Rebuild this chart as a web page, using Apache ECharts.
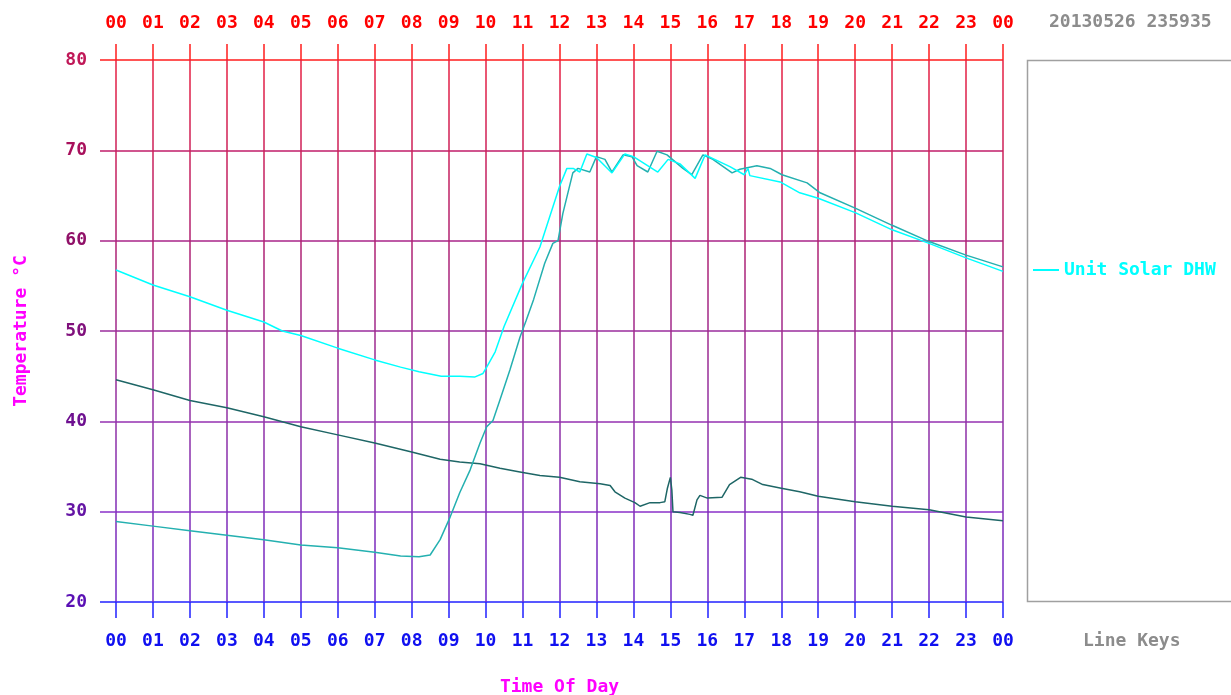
<!DOCTYPE html>
<html>
<head>
<meta charset="utf-8">
<title>Unit Solar DHW</title>
<script src="https://cdn.jsdelivr.net/npm/echarts@6/dist/echarts.min.js"></script>
<style>
  html, body { margin: 0; padding: 0; background: #fff; }
  #chart { width: 1231px; height: 695px; }
</style>
</head>
<body>
<div id="chart"></div>
<script>
// hour ticks 0..24, temperature ticks 20..80
var hourTicks = ['00', '01', '02', '03', '04', '05', '06', '07', '08', '09', '10', '11', '12',
  '13', '14', '15', '16', '17', '18', '19', '20', '21', '22', '23', '00']
var tempTicks = [20, 30, 40, 50, 60, 70, 80]

// Unit Solar DHW (cyan)
var dhwHours = [0, 1, 2, 3, 4, 4.5, 5, 6, 7, 7.7, 8.2, 8.8, 9.3, 9.7, 9.93, 10.03, 10.26, 10.5,
  11, 11.47, 12.0, 12.2, 12.37, 12.55, 12.74, 13.0, 13.42, 13.77, 14.0, 14.66, 14.94, 15.26,
  15.67, 15.94, 16.61, 17.0, 17.1, 17.15, 17.97, 18.5, 19.0, 20, 21, 22, 23, 24]
var dhwTemps = [56.75, 55.1, 53.8, 52.3, 51.0, 50.0, 49.5, 48.1, 46.8, 46, 45.5, 45, 45, 44.9, 45.3, 46, 47.7, 50.5,
  55.3, 59.3, 66, 68, 68, 67.6, 69.6, 69.2, 67.5, 69.6, 69.3, 67.6, 69, 68.5,
  66.9, 69.5, 68.2, 67.3, 68, 67.2, 66.5, 65.3, 64.7, 63.1, 61.2, 59.7, 58.1, 56.6]

// second sensor (teal)
var tealHours = [0, 1, 2, 3, 4, 5, 6, 7, 7.7, 8.2, 8.5, 8.77, 9.04, 9.3, 9.58, 9.85,
  10.03, 10.2, 10.39, 10.66, 10.93, 11.1, 11.3, 11.6, 11.82, 11.96, 12.09, 12.36, 12.5, 12.82,
  13.0, 13.23, 13.42, 13.72, 13.96, 14.1, 14.39, 14.64, 14.91, 15.34, 15.58, 15.88,
  16.15, 16.67, 16.88, 17.34, 17.7, 18.02, 18.7, 19.05, 20, 21, 22, 23, 24]
var tealTemps = [28.9, 28.4, 27.9, 27.4, 26.9, 26.3, 26, 25.5, 25.1, 25, 25.2, 26.9, 29.4, 32.1, 34.6, 37.6,
  39.4, 40.1, 42.4, 45.7, 49.3, 51.2, 53.5, 57.5, 59.7, 60, 63, 67.5, 68, 67.6,
  69.3, 69, 67.6, 69.5, 69.3, 68.3, 67.6, 69.9, 69.5, 68, 67.3, 69.5,
  69, 67.5, 67.9, 68.3, 68, 67.3, 66.4, 65.3, 63.6, 61.7, 59.9, 58.4, 57.1]

// third sensor (dark teal)
var darkHours = [0, 1, 2, 3, 4, 5, 6, 7, 8, 8.77, 9.3, 9.85, 10.39, 10.93, 11.47,
  12.0, 12.55, 13.1, 13.37, 13.5, 13.77, 14.04, 14.18, 14.45, 14.72, 14.85, 14.92,
  15.0, 15.04, 15.07, 15.26, 15.53, 15.61, 15.72, 15.8, 16, 16.4, 16.6, 16.9,
  17.2, 17.5, 18, 18.5, 19, 20, 21, 22, 23, 24]
var darkTemps = [44.6, 43.5, 42.3, 41.5, 40.5, 39.4, 38.5, 37.6, 36.6, 35.8, 35.5, 35.3, 34.8, 34.4, 34,
  33.8, 33.3, 33.1, 32.9, 32.2, 31.5, 31, 30.6, 31, 31, 31.1, 32.6,
  33.8, 32.4, 30, 29.9, 29.7, 29.6, 31.3, 31.8, 31.5, 31.6, 33, 33.8,
  33.6, 33, 32.6, 32.2, 31.7, 31.1, 30.6, 30.2, 29.4, 29]

var stamp = '20130526 235935'

function pairs(xs, ys) {
  var out = []
  for (var i = 0; i < xs.length; i++) {
    out.push([xs[i], ys[i]])
  }
  return out
}

var MONO = '"DejaVu Sans Mono", "Liberation Mono", monospace'
var hLineColors = ['#2020ff', '#8a30c8', '#9430b0', '#9a2c9c', '#a82488', '#c01c68', '#ff1c1c']
var yLabelColors = {20: '#5a10b4', 30: '#6414a4', 40: '#6e1090', 50: '#80107c', 60: '#901068', 70: '#a8105c', 80: '#c01858'}

var chart = echarts.init(document.getElementById('chart'))

// vertical grid lines fade red -> purple, top to bottom
var vGrad = new echarts.graphic.LinearGradient(0, 60, 0, 602, [
  { offset: 0, color: '#e81e40' },
  { offset: 0.33, color: '#b02070' },
  { offset: 0.66, color: '#9030a4' },
  { offset: 1, color: '#7028c8' }
], true)

// y ticks pick up the colour of their own grid line
var tickGrad = new echarts.graphic.LinearGradient(0, 60, 0, 602, [
  { offset: 0, color: '#ff1c1c' },
  { offset: 1 / 6, color: '#c01c68' },
  { offset: 2 / 6, color: '#a82488' },
  { offset: 3 / 6, color: '#9a2c9c' },
  { offset: 4 / 6, color: '#9430b0' },
  { offset: 5 / 6, color: '#8a30c8' },
  { offset: 1, color: '#2020ff' }
], true)

function hourLabel(v) {
  return hourTicks[Math.round(v)]
}

chart.setOption({
  animation: false,
  backgroundColor: '#ffffff',
  grid: {
    left: 116,
    right: 228,
    top: 60,
    bottom: 93,
    outerBoundsMode: 'none'
  },
  legend: {
    data: ['Unit Solar DHW'],
    left: 1033,
    top: 261,
    icon: 'rect',
    itemWidth: 26,
    itemHeight: 2,
    itemGap: 4,
    padding: 0,
    textStyle: { color: '#00ffff', fontFamily: MONO, fontWeight: 'bold', fontSize: 18 }
  },
  graphic: [
    {
      type: 'rect',
      shape: { x: 1027.5, y: 60.5, width: 230, height: 541 },
      style: { fill: 'none', stroke: '#a0a0a0', lineWidth: 1.5 },
      silent: true
    },
    {
      type: 'text',
      left: 1049,
      top: 13,
      style: { text: stamp, fill: '#8c8c8c', font: 'bold 18px ' + MONO }
    },
    {
      type: 'text',
      left: 1083,
      top: 632,
      style: { text: 'Line Keys', fill: '#8c8c8c', font: 'bold 18px ' + MONO }
    }
  ],
  xAxis: [
    {
      type: 'value',
      position: 'bottom',
      min: 0,
      max: 24,
      interval: 1,
      name: 'Time Of Day',
      nameLocation: 'middle',
      nameGap: 76,
      nameTextStyle: { color: '#ff00ff', fontFamily: MONO, fontWeight: 'bold', fontSize: 18 },
      axisLine: { show: false },
      axisTick: { show: true, inside: false, length: 16, lineStyle: { color: '#2020ff', width: 1.5 } },
      axisLabel: { margin: 30, color: '#1010f0', fontFamily: MONO, fontWeight: 'bold', fontSize: 18, formatter: hourLabel },
      splitLine: { show: true, lineStyle: { color: vGrad, width: 1.5 } }
    },
    {
      type: 'value',
      position: 'top',
      min: 0,
      max: 24,
      interval: 1,
      axisLine: { show: false },
      axisTick: { show: true, inside: false, length: 16, lineStyle: { color: '#ff1c1c', width: 1.5 } },
      axisLabel: { margin: 28, color: '#ff0000', fontFamily: MONO, fontWeight: 'bold', fontSize: 18, formatter: hourLabel },
      splitLine: { show: false }
    }
  ],
  yAxis: {
    type: 'value',
    min: tempTicks[0],
    max: tempTicks[tempTicks.length - 1],
    interval: 10,
    name: 'Temperature °C',
    nameLocation: 'middle',
    nameRotate: 90,
    nameGap: 86,
    nameMoveOverlap: false,
    nameTextStyle: { color: '#ff00ff', fontFamily: MONO, fontWeight: 'bold', fontSize: 18 },
    axisLine: { show: false },
    axisTick: { show: true, inside: false, length: 16, lineStyle: { color: tickGrad, width: 1.5 } },
    axisLabel: {
      margin: 29,
      fontFamily: MONO,
      fontWeight: 'bold',
      fontSize: 18,
      color: function(v) { return yLabelColors[v] || '#801080' }
    },
    splitLine: { show: true, lineStyle: { color: hLineColors, width: 1.5 } }
  },
  series: [
    {
      name: 'Tank',
      type: 'line',
      xAxisIndex: 0,
      symbol: 'none',
      lineStyle: { color: '#1e6666', width: 1.5 },
      itemStyle: { color: '#1e6666' },
      data: pairs(darkHours, darkTemps)
    },
    {
      name: 'Collector',
      type: 'line',
      xAxisIndex: 0,
      symbol: 'none',
      lineStyle: { color: '#24b0b0', width: 1.5 },
      itemStyle: { color: '#24b0b0' },
      data: pairs(tealHours, tealTemps)
    },
    {
      name: 'Unit Solar DHW',
      type: 'line',
      xAxisIndex: 0,
      symbol: 'none',
      lineStyle: { color: '#00ffff', width: 1.5 },
      itemStyle: { color: '#00ffff' },
      data: pairs(dhwHours, dhwTemps)
    }
  ]
})
</script>
</body>
</html>
